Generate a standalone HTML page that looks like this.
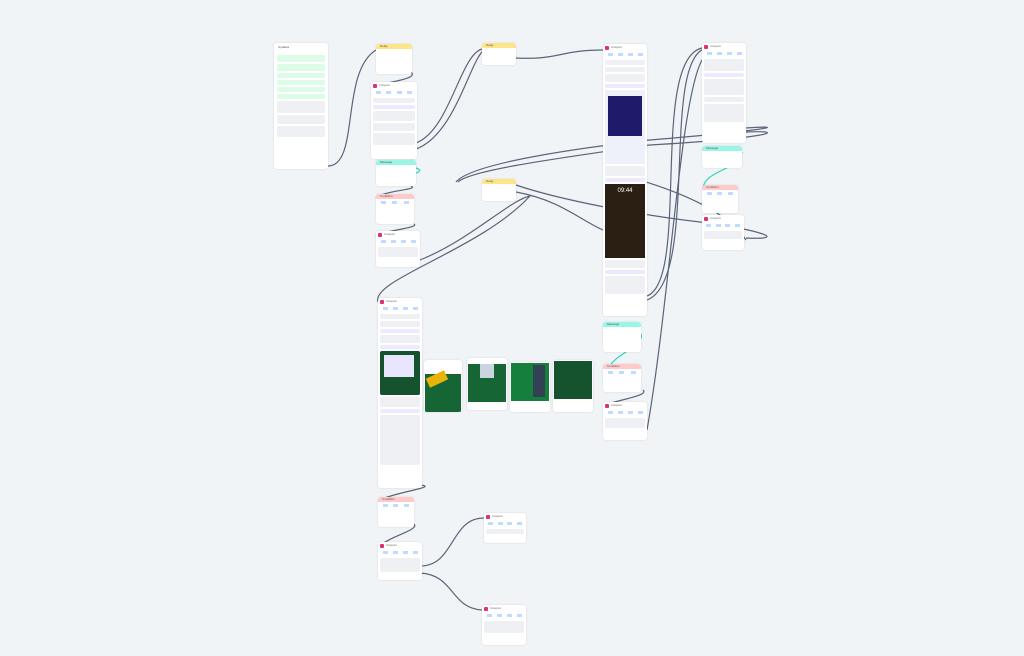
<!DOCTYPE html>
<html><head><meta charset="utf-8"><style>
body{margin:0;width:1024px;height:656px;background:#f1f4f7;position:relative;overflow:hidden;font-family:"Liberation Sans",sans-serif;font-size:3px;color:#555}
.n{position:absolute;background:#fff;border-radius:3px;box-shadow:0 0 2px rgba(0,0,0,.12);overflow:hidden}
.h{height:5px;padding-left:4px;font-size:3px;line-height:5px}
.y{background:#fde68a}.t{background:#99f6e4}.r{background:#fecaca}
.ig{height:7px;position:relative}
.ig:before{content:"";position:absolute;left:2px;top:2px;width:4px;height:4px;border-radius:1px;background:#e1306c}
.ig:after{content:"Instagram";position:absolute;left:8px;top:2px;font-size:2.5px;color:#777}
.st{display:flex;justify-content:space-around;height:6px;margin:1px 2px}
.st i{display:block;width:5px;height:3px;background:#bfdbfe;margin-top:1px}
.g{background:#eef0f3;border-radius:2px;margin:2px;height:5px}
.p{background:#ede9fe;border-radius:2px;margin:2px;height:4px}
.gr{background:#dcfce7;border-radius:2px;margin:2px 3px;height:7px}
.gy{background:#eef0f3;border-radius:2px;margin:2px 3px;height:9px}
.img{position:absolute;border-radius:2px;overflow:hidden}
</style></head><body>
<svg width="1024" height="656" style="position:absolute;left:0;top:0" fill="none" stroke="#5b6478" stroke-width="1.2">
<path d="M328 166 C360 166 340 72 376 50"/>
<path d="M411 72 C420 80 380 82 371 88"/>
<path d="M416 143 C450 130 460 55 482 49"/>
<path d="M416 149 C455 135 470 60 484 50"/>
<path d="M516 58 C560 60 560 50 603 50"/>
<path d="M411 160 C418 168 412 175 402 180"/>
<path d="M411 186 C420 190 385 190 376 198"/>
<path d="M414 224 C420 228 385 230 376 236"/>
<path d="M420 260 C470 240 510 200 530 196 C480 250 370 280 378 302"/>
<path d="M516 192 C560 200 580 220 603 230"/>
<path d="M647 296 C690 280 650 60 702 48"/>
<path d="M647 300 C700 280 660 60 706 48"/>
<path d="M746 128 C790 125 770 130 650 140 C560 150 470 165 456 182"/>
<path d="M746 132 C790 130 770 138 650 145 C560 158 470 170 458 182"/>
<path d="M702 60 C680 100 670 300 647 430"/>
<path d="M746 238 C790 240 760 230 700 222 C640 215 560 200 516 185"/>
<path d="M420 485 C440 487 395 492 380 500"/>
<path d="M414 524 C420 530 390 536 380 546"/>
<path d="M420 566 C455 566 450 518 484 518"/>
<path d="M420 573 C455 575 450 608 482 610"/>
<path d="M643 390 C650 396 615 400 603 406"/>
<path d="M605 170 C640 180 720 200 746 240"/>
<path stroke="#2dd4bf" d="M416 168 C430 172 400 178 390 176"/>
<path stroke="#2dd4bf" d="M742 152 C740 170 705 170 703 188"/>
<path stroke="#2dd4bf" d="M641 334 C645 345 615 355 610 366"/>
</svg>

<!-- left list -->
<div class="n" style="left:274px;top:43px;width:54px;height:126px"><div style="height:6px;font-size:3px;padding:2px 4px">Updates</div>
<div class="gr"></div><div class="gr"></div><div class="gr" style="height:5px"></div><div class="gr" style="height:5px"></div><div class="gr" style="height:5px"></div><div class="gr" style="height:5px"></div><div class="gy" style="height:12px"></div><div class="gy"></div><div class="gy" style="height:11px"></div></div>

<div class="n" style="left:376px;top:44px;width:36px;height:30px"><div class="h y">Delay</div><div class="g" style="height:4px;background:#fff"></div><div class="g" style="height:4px;background:#fff"></div></div>
<div class="n" style="left:371px;top:82px;width:46px;height:77px"><div class="ig"></div><div class="st"><i></i><i></i><i></i><i></i></div><div class="g"></div><div class="p"></div><div class="g" style="height:10px"></div><div class="g" style="height:8px"></div><div class="g" style="height:12px"></div></div>
<div class="n" style="left:376px;top:160px;width:40px;height:26px"><div class="h t">Message</div><div class="g" style="background:#fff"></div></div>
<div class="n" style="left:376px;top:194px;width:38px;height:30px"><div class="h r">Condition</div><div class="st"><i></i><i></i><i></i></div><div class="g" style="background:#fff"></div></div>
<div class="n" style="left:376px;top:231px;width:44px;height:36px"><div class="ig"></div><div class="st"><i></i><i></i><i></i><i></i></div><div class="g" style="height:10px"></div></div>

<div class="n" style="left:378px;top:298px;width:44px;height:190px"><div class="ig"></div><div class="st"><i></i><i></i><i></i><i></i></div><div class="g"></div><div class="g" style="height:6px"></div><div class="p"></div><div class="g" style="height:8px"></div><div class="p"></div>
<div style="margin:2px;height:44px;background:#14532d;border-radius:2px;position:relative"><div style="position:absolute;left:4px;top:4px;width:30px;height:22px;background:#e9e5ff"></div></div>
<div class="g" style="height:10px"></div><div class="p"></div><div class="g" style="height:50px"></div></div>

<div class="n" style="left:378px;top:497px;width:36px;height:30px"><div class="h r">Condition</div><div class="st"><i></i><i></i><i></i></div><div class="g" style="background:#fff"></div></div>
<div class="n" style="left:378px;top:542px;width:44px;height:38px"><div class="ig"></div><div class="st"><i></i><i></i><i></i><i></i></div><div class="g" style="height:14px"></div></div>

<div class="n" style="left:424px;top:360px;width:38px;height:52px"><div style="margin:1px;height:38px;background:#166534"><div style="width:20px;height:10px;background:#eab308;transform:rotate(-25deg);margin:14px 0 0 2px"></div></div></div>
<div class="n" style="left:467px;top:358px;width:40px;height:52px"><div style="margin:1px;height:38px;background:#166534"><div style="width:14px;height:14px;background:#cbd5e1;margin:6px auto 0"></div></div></div>
<div class="n" style="left:510px;top:362px;width:40px;height:50px"><div style="margin:1px;height:38px;background:#15803d;position:relative"><div style="position:absolute;right:4px;top:2px;width:12px;height:32px;background:#334155"></div></div></div>
<div class="n" style="left:553px;top:360px;width:40px;height:52px"><div style="margin:1px;height:38px;background:#14532d"></div></div>

<div class="n" style="left:482px;top:43px;width:34px;height:22px"><div class="h y">Delay</div></div>
<div class="n" style="left:482px;top:179px;width:34px;height:22px"><div class="h y">Delay</div></div>
<div class="n" style="left:484px;top:513px;width:42px;height:30px"><div class="ig"></div><div class="st"><i></i><i></i><i></i><i></i></div><div class="g"></div></div>
<div class="n" style="left:482px;top:605px;width:44px;height:40px"><div class="ig"></div><div class="st"><i></i><i></i><i></i><i></i></div><div class="g" style="height:12px"></div></div>

<div class="n" style="left:603px;top:44px;width:44px;height:272px"><div class="ig"></div><div class="st"><i></i><i></i><i></i><i></i></div><div class="g"></div><div class="g"></div><div class="g" style="height:8px"></div><div class="p"></div>
<div style="margin:2px;height:74px;background:#eef0fa;position:relative"><div style="position:absolute;left:3px;top:6px;width:34px;height:40px;background:#1e1b6b"></div></div>
<div class="g" style="height:10px"></div><div class="p"></div>
<div style="margin:2px;height:74px;background:#2b1f14;color:#fff;font-size:6px;text-align:center;padding-top:4px;box-sizing:border-box">09:44</div>
<div class="g" style="height:8px"></div><div class="p"></div><div class="g" style="height:18px"></div></div>

<div class="n" style="left:603px;top:322px;width:38px;height:30px"><div class="h t">Message</div><div class="g" style="background:#fff"></div></div>
<div class="n" style="left:603px;top:364px;width:38px;height:28px"><div class="h r">Condition</div><div class="st"><i></i><i></i><i></i></div></div>
<div class="n" style="left:603px;top:402px;width:44px;height:38px"><div class="ig"></div><div class="st"><i></i><i></i><i></i><i></i></div><div class="g" style="height:10px"></div></div>

<div class="n" style="left:702px;top:43px;width:44px;height:100px"><div class="ig"></div><div class="st"><i></i><i></i><i></i><i></i></div><div class="g" style="height:12px"></div><div class="p"></div><div class="g" style="height:16px"></div><div class="g"></div><div class="g" style="height:18px"></div></div>
<div class="n" style="left:702px;top:146px;width:40px;height:22px"><div class="h t">Message</div></div>
<div class="n" style="left:702px;top:185px;width:36px;height:28px"><div class="h r">Condition</div><div class="st"><i></i><i></i><i></i></div></div>
<div class="n" style="left:702px;top:215px;width:42px;height:35px"><div class="ig"></div><div class="st"><i></i><i></i><i></i><i></i></div><div class="g" style="height:8px"></div></div>
</body></html>
